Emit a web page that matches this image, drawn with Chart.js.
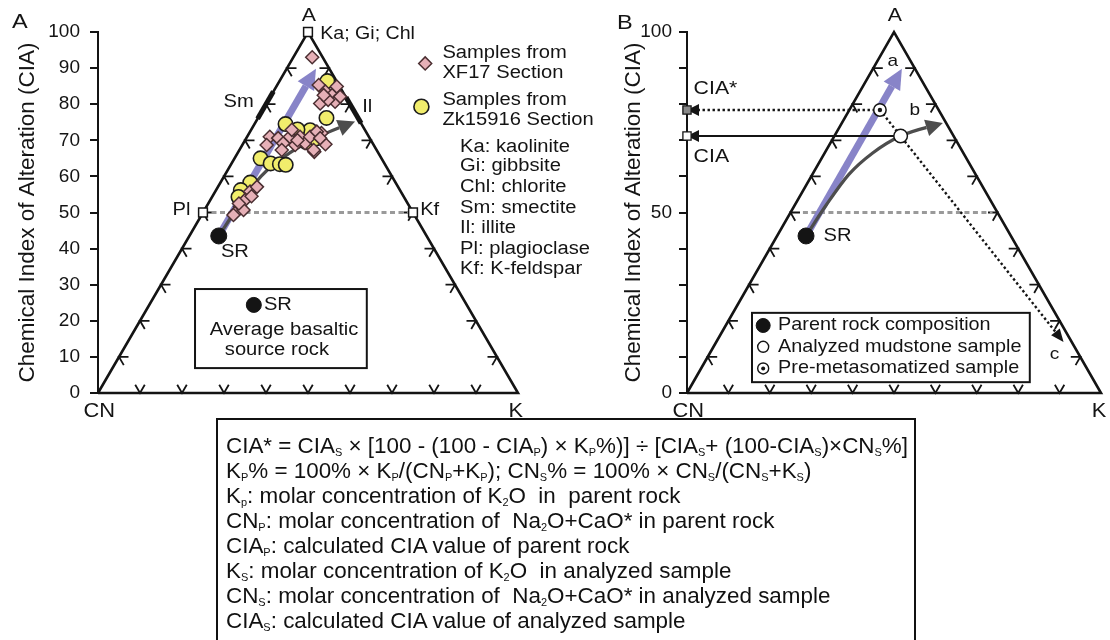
<!DOCTYPE html>
<html>
<head>
<meta charset="utf-8">
<title>CIA ternary diagrams</title>
<script src="https://cdn.jsdelivr.net/npm/chart.js@4.4.1/dist/chart.umd.min.js"></script>
<style>
  html, body { margin: 0; padding: 0; background: #fff; }
  #fig { position: relative; width: 1110px; height: 640px; overflow: hidden; background: #fff; }
  #fig canvas { position: absolute; left: 0; top: 0; }
  #formula { position: absolute; left: 216px; top: 418px; width: 700px; height: 260px;
             border: 2px solid #111; box-sizing: border-box; }
  #formula .lines { position: absolute; left: 8px; top: 13px; display: inline-block; transform-origin: 0 0;
             white-space: nowrap; font-family: "Liberation Sans", Arial, sans-serif; font-size: 22.5px;
             line-height: 25px; color: #111; }
  #formula sub { font-size: 11px; vertical-align: -3px; line-height: 0; }
</style>
</head>
<body>
<div id="fig">
  <canvas id="panelA" width="1110" height="640"></canvas>
  <canvas id="panelB" width="1110" height="640"></canvas>
  <div id="formula"><div class="lines" id="formulaLines">
    <div>CIA* = CIA<sub>S</sub> × [100 - (100 - CIA<sub>P</sub>) × K<sub>P</sub>%)] ÷ [CIA<sub>S</sub>+ (100-CIA<sub>S</sub>)×CN<sub>S</sub>%]</div>
    <div>K<sub>P</sub>% = 100% × K<sub>P</sub>/(CN<sub>P</sub>+K<sub>P</sub>); CN<sub>S</sub>% = 100% × CN<sub>S</sub>/(CN<sub>S</sub>+K<sub>S</sub>)</div>
    <div>K<sub>p</sub>: molar concentration of K<sub>2</sub>O &nbsp;in &nbsp;parent rock</div>
    <div>CN<sub>P</sub>: molar concentration of &nbsp;Na<sub>2</sub>O+CaO* in parent rock</div>
    <div>CIA<sub>P</sub>: calculated CIA value of parent rock</div>
    <div>K<sub>S</sub>: molar concentration of K<sub>2</sub>O &nbsp;in analyzed sample</div>
    <div>CN<sub>S</sub>: molar concentration of &nbsp;Na<sub>2</sub>O+CaO* in analyzed sample</div>
    <div>CIA<sub>S</sub>: calculated CIA value of analyzed sample</div>
  </div></div>
</div>
<script>
// ---------------------------------------------------------------
// Data: ternary compositions A (= CIA, %) and K (%), CN = 100 - A - K
// ---------------------------------------------------------------
const xf17Cia = [93.0, 85.3, 83.5, 82.5, 80.7, 84.9, 80.2, 81.2, 82.1, 82.5,
                 72.0, 68.9, 66.8, 71.0, 68.7, 70.6, 69.2, 71.0, 68.7, 71.0,
                 69.2, 71.0, 72.4, 70.6, 67.3, 67.3, 72.9, 70.0,
                 55.8, 57.1, 53.5, 51.6, 49.8, 50.7, 49.3, 54.5, 52.5];
const xf17K   = [4.5, 9.9, 12.4, 14.5, 16.1, 14.4, 12.8, 14.2, 16.6, 12.5,
                 17.2, 19.7, 18.1, 5.4, 5.8, 7.6, 9.5, 10.2, 12.6, 12.6,
                 14.7, 15.0, 15.9, 17.6, 17.7, 10.1, 9.7, 12.5,
                 8.3, 9.3, 8.3, 8.0, 7.7, 9.3, 7.6, 9.3, 7.3];

const zkCia = [86.4, 76.2, 74.5, 72.8, 71.5, 69.5, 70.5, 73.0, 82.0,
               65.0, 63.6, 63.4, 63.2, 58.3, 56.2, 54.3];
const zkK   = [11.4, 16.3, 7.4, 14.1, 11.3, 14.8, 16.6, 11.0, 15.0,
               6.2, 9.3, 11.6, 13.1, 7.1, 5.9, 6.3];

// average basaltic source rock (SR)
const srCia = 43.5;
const srK = 7.0;
// ideal weathering trend end (constant K)
const weatheringEndCia = 89.8;
// K-metasomatism trend towards illite
const illiteTrendCia = [43.5, 52.0, 60.0, 66.5, 71.8, 75.2];
const illiteTrendK   = [7.0, 7.6, 8.8, 12.4, 18.1, 23.6];
const trendBCia = [43.5, 52.0, 60.5, 66.5, 71.2, 74.8];
const trendBK   = [7.0, 7.6, 8.8, 11.6, 16.0, 24.4];
// analysed mudstone, pre-metasomatized equivalent, K-addition trend end
const sampleCia = 71.2, sampleK = 16.0;
const premetCia = 78.4, premetK = 7.4;
const kTrendEndCia = 14.1, kTrendEndK = 83.9;
// mineral reference compositions
const smectiteCia = [76.0, 83.5];   // on the A-CN join
const illiteCia = [74.7, 81.9];     // on the A-K join
const feldsparCia = 50;
const midlineKB = [3.0, 48.8];

// axes
const ciaTicks = [0, 10, 20, 30, 40, 50, 60, 70, 80, 90, 100];
const ciaLabelsA = [0, 10, 20, 30, 40, 50, 60, 70, 80, 90, 100];
const ciaLabelsB = [0, 50, 100];
const ternaryTickValues = [10, 20, 30, 40, 50, 60, 70, 80, 90];

// ---------------------------------------------------------------
const FONT = '"Liberation Sans", Arial, Helvetica, sans-serif';
const INK = '#141414';
const STRETCH = 1.12;
Chart.defaults.font.family = FONT;

function tern(cia, k) { return { x: k + cia / 2, y: cia }; }
function pts(ciaArr, kArr) { return ciaArr.map((c, i) => tern(c, kArr[i])); }
const triangle = [tern(0, 0), tern(100, 0), tern(0, 100), tern(0, 0)];

function line(data, color, width, extra) {
  return Object.assign({ data, showLine: true, borderColor: color, borderWidth: width,
    pointRadius: 0, fill: false, clip: false, borderCapStyle: 'butt', borderJoinStyle: 'miter' }, extra || {});
}
function marks(data, style, radius, bg, border, bw, extra) {
  return Object.assign({ data, showLine: false, pointStyle: style, pointRadius: radius,
    backgroundColor: bg, borderColor: border, borderWidth: bw, clip: false }, extra || {});
}

// ---- arrow heads at the last point of datasets that carry an `arrow` spec ----
function headGeom(meta, spec) {
  const el = meta.data;
  if (!el || el.length < 2) return null;
  const tip = el[el.length - 1], prev = el[el.length - 2];
  let fx = prev.x, fy = prev.y;
  if (tip.cp1x !== undefined && Math.hypot(tip.x - tip.cp1x, tip.y - tip.cp1y) > 0.5) { fx = tip.cp1x; fy = tip.cp1y; }
  let ux = tip.x - fx, uy = tip.y - fy;
  const l = Math.hypot(ux, uy) || 1;
  ux /= l; uy /= l;
  return { tx: tip.x, ty: tip.y, bx: tip.x - ux * spec.len, by: tip.y - uy * spec.len,
           ux, uy, nx: -uy, ny: ux, half: spec.half };
}
const arrowHeads = {
  id: 'arrowHeads',
  beforeDatasetDraw(chart, args) {
    const ds = chart.data.datasets[args.index];
    if (!ds.arrow) return;
    const g = headGeom(args.meta, ds.arrow);
    ds._head = g;
    if (!g) return;
    const ctx = chart.ctx, far = 3000;
    ctx.save();
    ctx.beginPath();
    ctx.rect(0, 0, chart.width, chart.height);
    ctx.moveTo(g.bx + g.nx * far, g.by + g.ny * far);
    ctx.lineTo(g.bx + g.nx * far + g.ux * far, g.by + g.ny * far + g.uy * far);
    ctx.lineTo(g.bx - g.nx * far + g.ux * far, g.by - g.ny * far + g.uy * far);
    ctx.lineTo(g.bx - g.nx * far, g.by - g.ny * far);
    ctx.closePath();
    ctx.clip('evenodd');
  },
  afterDatasetDraw(chart, args) {
    const ds = chart.data.datasets[args.index];
    if (!ds.arrow || !ds._head) return;
    const g = ds._head, ctx = chart.ctx;
    ctx.restore();
    ctx.save();
    ctx.fillStyle = ds.arrow.color || ds.borderColor;
    ctx.beginPath();
    ctx.moveTo(g.tx, g.ty);
    ctx.lineTo(g.bx + g.nx * g.half, g.by + g.ny * g.half);
    ctx.lineTo(g.bx - g.nx * g.half, g.by - g.ny * g.half);
    ctx.closePath();
    ctx.fill();
    ctx.restore();
  }
};

// ---- chevron ticks along the three triangle edges ----
const ternaryTicks = {
  id: 'ternaryTicks',
  beforeDatasetsDraw(chart) {
    const xs = chart.scales.x, ys = chart.scales.y, ctx = chart.ctx;
    const P = (c, k) => { const t = tern(c, k); return [xs.getPixelForValue(t.x), ys.getPixelForValue(t.y)]; };
    const CN = P(0, 0), A = P(100, 0), K = P(0, 100);
    const unit = (a, b) => { const dx = b[0] - a[0], dy = b[1] - a[1], l = Math.hypot(dx, dy); return [dx / l, dy / l]; };
    const edges = [
      [CN, A, unit(CN, K), unit(A, K)],
      [CN, K, unit(CN, A), unit(K, A)],
      [K, A, unit(K, CN), unit(A, CN)]
    ];
    const len = 9.5;
    ctx.save();
    ctx.strokeStyle = INK;
    ctx.lineWidth = 1.8;
    ctx.lineCap = 'butt';
    edges.forEach(([a, b, u1, u2]) => {
      ternaryTickValues.forEach(v => {
        const t = v / 100;
        const px = a[0] + (b[0] - a[0]) * t, py = a[1] + (b[1] - a[1]) * t;
        ctx.beginPath();
        ctx.moveTo(px + u1[0] * len, py + u1[1] * len);
        ctx.lineTo(px, py);
        ctx.lineTo(px + u2[0] * len, py + u2[1] * len);
        ctx.stroke();
      });
    });
    ctx.restore();
  }
};

// ---- labels, legend boxes and legend swatches ----
function swatch(ctx, s, x, y) {
  ctx.save();
  ctx.fillStyle = s.bg; ctx.strokeStyle = s.border || INK; ctx.lineWidth = s.bw || 1.5;
  const opts = { pointStyle: s.style || 'circle', radius: s.r, borderWidth: s.bw === undefined ? 1.5 : s.bw, rotation: 0 };
  if (Chart.helpers && Chart.helpers.drawPoint) {
    Chart.helpers.drawPoint(ctx, opts, x, y);
  } else {
    ctx.beginPath(); ctx.arc(x, y, s.r, 0, Math.PI * 2); ctx.fill(); if (opts.borderWidth) ctx.stroke();
  }
  ctx.restore();
}
function makeTextPlugin(cfg) {
  return {
    id: 'panelText',
    afterDraw(chart) {
      const xs = chart.scales.x, ys = chart.scales.y, ctx = chart.ctx;
      const X = v => xs.getPixelForValue(v), Y = v => ys.getPixelForValue(v);
      ctx.save();
      (cfg.boxes || []).forEach(b => {
        const x0 = X(b.x0), x1 = X(b.x1), y0 = Y(b.y0), y1 = Y(b.y1);
        ctx.fillStyle = '#fff';
        ctx.fillRect(x0, y0, x1 - x0, y1 - y0);
        ctx.strokeStyle = INK; ctx.lineWidth = 2;
        ctx.strokeRect(x0, y0, x1 - x0, y1 - y0);
      });
      (cfg.swatches || []).forEach(s => swatch(ctx, s, X(s.x), Y(s.y)));
      ctx.fillStyle = INK;
      ctx.textBaseline = 'middle';
      (cfg.labels || []).forEach(l => {
        ctx.save();
        ctx.translate(X(l.x), Y(l.y));
        ctx.scale(l.stretch || STRETCH, 1);
        ctx.font = (l.size || 18) + 'px ' + FONT;
        ctx.textAlign = l.align || 'left';
        ctx.fillText(l.t, 0, 0);
        ctx.restore();
      });
      ctx.restore();
    }
  };
}

function yAxis(width, labelled, pad) {
  return {
    type: 'linear', min: 0, max: 100,
    afterFit: s => { s.width = width; },
    afterBuildTicks: s => { s.ticks = ciaTicks.map(v => ({ value: v })); },
    ticks: { autoSkip: false, color: INK, padding: pad, font: { family: FONT, size: 19 },
             callback: v => (labelled.includes(v) ? String(v) : '') },
    grid: { drawOnChartArea: false, drawTicks: true, tickLength: 8, color: INK, lineWidth: 2 },
    border: { display: true, color: INK, width: 2 },
    title: { display: true, text: 'Chemical Index of Alteration (CIA)', color: INK,
             font: { family: FONT, size: 22.5 }, padding: { top: 4, bottom: 0 } }
  };
}
function baseOptions(padding, yax) {
  return {
    responsive: false, animation: false, events: [],
    layout: { padding },
    plugins: { legend: { display: false }, tooltip: { enabled: false } },
    scales: { x: { type: 'linear', min: 0, max: 100, display: false }, y: yax }
  };
}

// ---------------------------------------------------------------
// Panel A: sample compositions
// ---------------------------------------------------------------
const PURPLE = '#8884c8', GREY = '#4d4d4d', MID = '#9a9a9a';
const panelA = new Chart(document.getElementById('panelA'), {
  type: 'scatter',
  data: { datasets: [
    marks([tern(100, 0), tern(feldsparCia, 0), tern(feldsparCia, 100 - feldsparCia)], 'rect', 6.2, '#fff', INK, 1.5, { order: 1 }),
    marks([tern(srCia, srK)], 'circle', 8, INK, INK, 1, { order: 2 }),
    marks(pts(xf17Cia, xf17K), 'rectRot', 6.5, '#e6b0b7', '#4a2e31', 1.5, { order: 3 }),
    marks(pts(zkCia, zkK), 'circle', 7.2, '#f1ed6c', '#1c1c1c', 1.6, { order: 4 }),
    line(pts(illiteTrendCia, illiteTrendK), GREY, 3.2, { order: 5, tension: 0.4, cubicInterpolationMode: 'monotone',
         arrow: { len: 17, half: 8.5, color: GREY } }),
    line([tern(srCia, srK), tern(weatheringEndCia, srK)], PURPLE, 7, { order: 6, arrow: { len: 20, half: 9.5, color: PURPLE } }),
    line(smectiteCia.map(c => tern(c, 0)), INK, 5, { order: 7 }),
    line(illiteCia.map(c => tern(c, 100 - c)), INK, 5, { order: 7 }),
    line([tern(feldsparCia, 0), tern(feldsparCia, 100 - feldsparCia)], MID, 3, { order: 8, borderDash: [5, 3.5] }),
    line(triangle, INK, 2.6, { order: 9 })
  ] },
  options: baseOptions({ left: 10, right: 592, top: 32, bottom: 247 }, yAxis(88, ciaLabelsA, 10)),
  plugins: [arrowHeads, ternaryTicks, makeTextPlugin({
    boxes: [{ x0: 23.1, y0: 28.8, x1: 64.0, y1: 6.9 }],
    swatches: [
      { x: 37.1, y: 24.4, r: 7.5, bg: INK, bw: 1 },
      { x: 77.9, y: 91.3, r: 6.5, style: 'rectRot', bg: '#e6b0b7', border: '#4a2e31', bw: 1.5 },
      { x: 77.0, y: 79.3, r: 7.5, bg: '#f1ed6c', border: '#1c1c1c', bw: 1.6 }
    ],
    labels: [
      { t: 'A', x: -20.5, y: 102.8, size: 21 },
      { t: 'A', x: 50.2, y: 104.6, size: 19, align: 'center' },
      { t: 'Ka; Gi; Chl', x: 52.9, y: 99.4, size: 17.5 },
      { t: 'Sm', x: 37.1, y: 80.6, align: 'right' },
      { t: 'Il', x: 62.9, y: 79.2 },
      { t: 'Pl', x: 22.0, y: 50.7, align: 'right' },
      { t: 'Kf', x: 76.7, y: 50.7 },
      { t: 'SR', x: 32.6, y: 39.0, align: 'center' },
      { t: 'CN', x: 0.3, y: -5.2, size: 19.5, align: 'center' },
      { t: 'K', x: 99.5, y: -5.2, size: 19.5, align: 'center' },
      { t: 'Samples from', x: 82.0, y: 94.1 },
      { t: 'XF17 Section', x: 82.0, y: 88.6 },
      { t: 'Samples from', x: 82.0, y: 81.2 },
      { t: 'Zk15916 Section', x: 82.0, y: 75.6 },
      { t: 'Ka: kaolinite', x: 86.2, y: 68.2 },
      { t: 'Gi: gibbsite', x: 86.2, y: 62.9 },
      { t: 'Chl: chlorite', x: 86.2, y: 57.1 },
      { t: 'Sm: smectite', x: 86.2, y: 51.2 },
      { t: 'Il: illite', x: 86.2, y: 45.6 },
      { t: 'Pl: plagioclase', x: 86.2, y: 39.9 },
      { t: 'Kf: K-feldspar', x: 86.2, y: 34.3 },
      { t: 'SR', x: 39.5, y: 24.4 },
      { t: 'Average basaltic', x: 44.3, y: 17.5, align: 'center' },
      { t: 'source rock', x: 42.6, y: 11.9, align: 'center' }
    ]
  })]
});

// ---------------------------------------------------------------
// Panel B: correcting CIA for K-metasomatism
// ---------------------------------------------------------------
const premet = tern(premetCia, premetK);
const sample = tern(sampleCia, sampleK);
const panelB = new Chart(document.getElementById('panelB'), {
  type: 'scatter',
  data: { datasets: [
    marks([{ x: 0, y: premetCia }, { x: 0, y: sampleCia }], 'rect', 5.8, ['#8a8a8a', '#fff'], INK, 1.3, { order: 1 }),
    marks([premet], 'circle', 2.2, INK, INK, 0, { order: 2 }),
    marks([premet], 'circle', 6.2, '#fff', INK, 1.5, { order: 3 }),
    marks([sample], 'circle', 6.8, '#fff', INK, 1.5, { order: 4 }),
    marks([tern(srCia, srK)], 'circle', 8, INK, INK, 1, { order: 5 }),
    line([premet, tern(kTrendEndCia, kTrendEndK)], INK, 2.4, { order: 6, borderDash: [2.4, 2.6],
         arrow: { len: 13, half: 5.5, color: INK } }),
    line([premet, { x: 0, y: premetCia }], INK, 2.4, { order: 7, borderDash: [2.4, 2.6],
         arrow: { len: 12, half: 6, color: INK } }),
    line([sample, { x: 0, y: sampleCia }], INK, 2, { order: 8, arrow: { len: 12, half: 6, color: INK } }),
    line(pts(trendBCia, trendBK), GREY, 3.2, { order: 9, tension: 0.4, cubicInterpolationMode: 'monotone',
         arrow: { len: 17, half: 8.5, color: GREY } }),
    line([tern(srCia, srK), tern(weatheringEndCia, srK)], PURPLE, 7, { order: 10, arrow: { len: 20, half: 9.5, color: PURPLE } }),
    line(midlineKB.map(k => tern(feldsparCia, k)), MID, 3, { order: 11, borderDash: [5, 3.5] }),
    line(triangle, INK, 2.6, { order: 12 })
  ] },
  options: baseOptions({ left: 616, right: 9, top: 32, bottom: 247 }, yAxis(71, ciaLabelsB, 7)),
  plugins: [arrowHeads, ternaryTicks, makeTextPlugin({
    boxes: [{ x0: 15.7, y0: 22.2, x1: 82.8, y1: 3.0 }],
    swatches: [
      { x: 18.4, y: 18.7, r: 7, bg: INK, bw: 1 },
      { x: 18.4, y: 12.8, r: 5.5, bg: '#fff', bw: 1.4 },
      { x: 18.4, y: 6.8, r: 5.5, bg: '#fff', bw: 1.4 },
      { x: 18.4, y: 6.8, r: 2, bg: INK, bw: 0 }
    ],
    labels: [
      { t: 'B', x: -16.9, y: 102.5, size: 21 },
      { t: 'A', x: 50.2, y: 104.4, size: 19, align: 'center' },
      { t: 'CIA*', x: 1.6, y: 84.4, size: 19 },
      { t: 'CIA', x: 1.6, y: 65.5, size: 19 },
      { t: 'a', x: 49.7, y: 92.0, size: 17, align: 'center' },
      { t: 'b', x: 55.0, y: 78.4, size: 17, align: 'center' },
      { t: 'c', x: 88.8, y: 10.8, size: 17, align: 'center' },
      { t: 'SR', x: 33.0, y: 43.5 },
      { t: 'CN', x: 0.3, y: -5.2, size: 19.5, align: 'center' },
      { t: 'K', x: 99.5, y: -5.2, size: 19.5, align: 'center' },
      { t: 'Parent rock composition', x: 22.0, y: 18.7, size: 17.7 },
      { t: 'Analyzed mudstone sample', x: 22.0, y: 12.8, size: 17.7 },
      { t: 'Pre-metasomatized sample', x: 22.0, y: 6.8, size: 17.7 }
    ]
  })]
});

// condensed formula text: fit the first line to the box width
(function fitFormula() {
  const block = document.getElementById('formulaLines');
  const w = block.getBoundingClientRect().width;
  if (w > 0) block.style.transform = 'scaleX(' + (682 / w).toFixed(4) + ')';
})();
</script>
</body>
</html>
